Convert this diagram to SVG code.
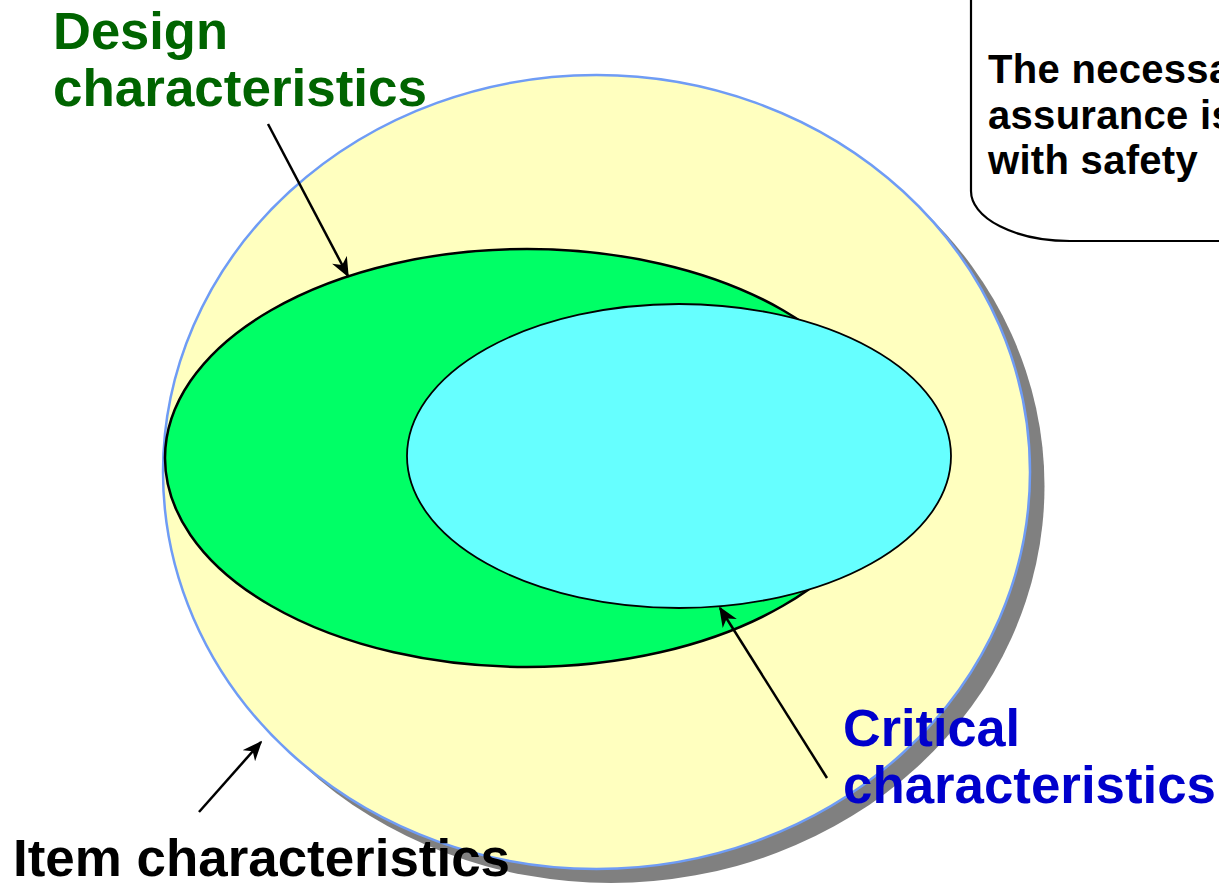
<svg xmlns="http://www.w3.org/2000/svg" width="1219" height="883" viewBox="0 0 1219 883">
<defs>
<style>
.lbl{font-family:"Liberation Sans",Arial,sans-serif;font-weight:bold;font-size:51px}
.call{font-family:"Liberation Sans",Arial,sans-serif;font-weight:bold;font-size:40px;letter-spacing:0.3px;fill:#000}
.conn{stroke:#000;stroke-width:2.5;fill:none;marker-end:url(#ah)}
</style>
<marker id="ah" viewBox="0 0 12 10" refX="11" refY="5" markerWidth="8" markerHeight="7" markerUnits="strokeWidth" orient="auto">
<path d="M0,0 L12,5 L0,10 L3.5,5 Z" fill="#000"/>
</marker>
</defs>
<rect width="1219" height="883" fill="#fff"/>
<g id="item-characteristics">
<ellipse cx="611" cy="486" rx="433.5" ry="397" fill="#808080"/>
<ellipse cx="596.5" cy="472" rx="433.5" ry="397" fill="#ffffbf" stroke="#6f9cf5" stroke-width="2.5"/>
</g>
<g id="design-characteristics">
<ellipse cx="527" cy="458" rx="362" ry="209" fill="#00ff66" stroke="#000" stroke-width="2.5"/>
</g>
<g id="critical-characteristics">
<ellipse cx="679" cy="456" rx="272" ry="152" fill="#66ffff" stroke="#000" stroke-width="1.8"/>
</g>
<g id="callout">
<path d="M1230,-10 L971,-10 L971,191 A99,50 0 0 0 1070,241 L1230,241" fill="#fff" stroke="#000" stroke-width="2.2"/>
<text class="call" x="988" y="83">The necessary</text>
<text class="call" x="988" y="129">assurance is</text>
<text class="call" x="988" y="174">with safety</text>
</g>
<g id="connectors">
<line class="conn" x1="268" y1="124" x2="348" y2="276"/>
<line class="conn" x1="827" y1="778" x2="720" y2="608"/>
<line class="conn" x1="199" y1="812" x2="261" y2="742"/>
</g>
<g id="labels">
<text class="lbl" x="53" y="49" fill="#006400" textLength="175" lengthAdjust="spacingAndGlyphs">Design</text>
<text class="lbl" x="53" y="106" fill="#006400" textLength="374" lengthAdjust="spacingAndGlyphs">characteristics</text>
<text class="lbl" x="843" y="746" fill="#0000cc" textLength="177" lengthAdjust="spacingAndGlyphs">Critical</text>
<text class="lbl" x="843" y="803" fill="#0000cc" textLength="373" lengthAdjust="spacingAndGlyphs">characteristics</text>
<text class="lbl" x="13" y="876" fill="#000" textLength="497" lengthAdjust="spacingAndGlyphs">Item characteristics</text>
</g>
</svg>
